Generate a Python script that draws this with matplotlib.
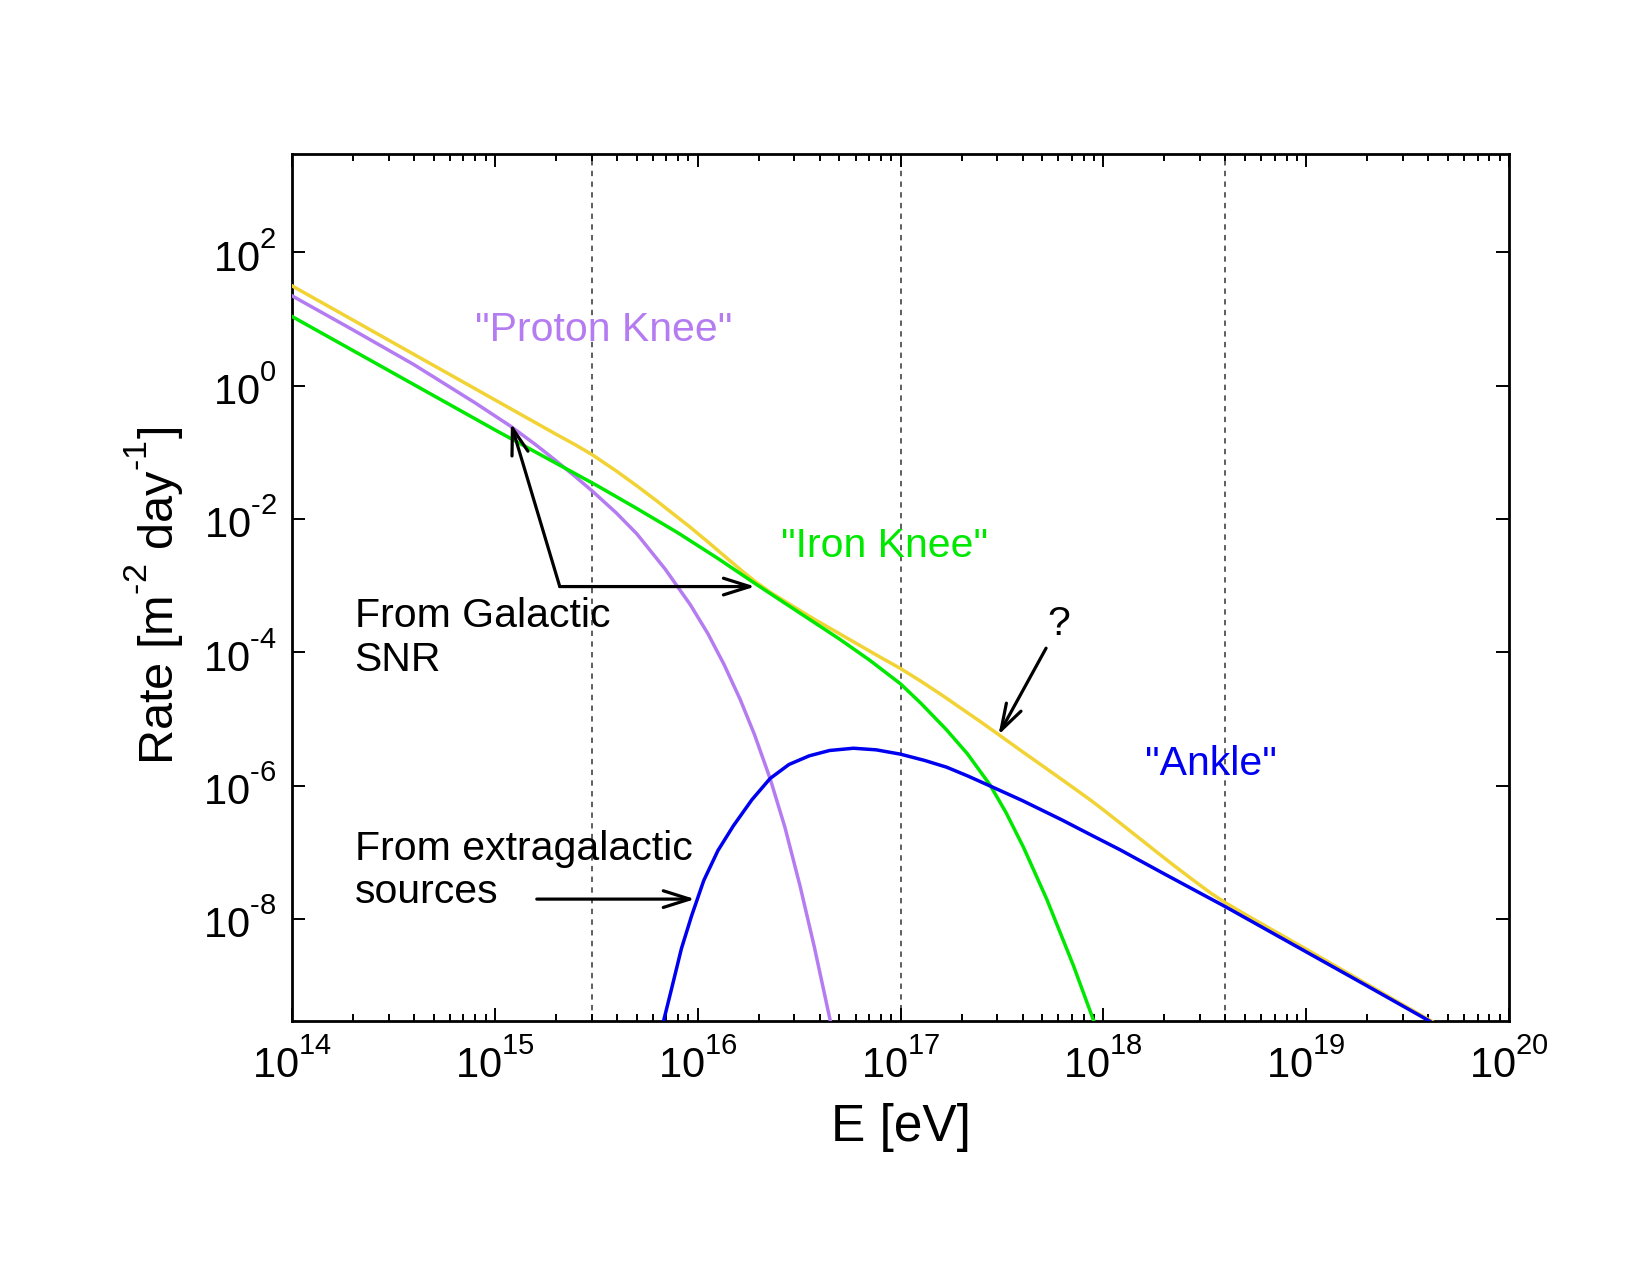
import numpy as np
import matplotlib
matplotlib.use("Agg")
import matplotlib.pyplot as plt
from matplotlib.ticker import LogLocator, NullLocator, NullFormatter

try:
    import matplotlib._mathtext as _mt
    _mt.FontConstantsBase.sup1 = 1.0
except Exception:
    pass

# ---------------- data (log10 values) ----------------
proton_logE = [14.0, 14.3, 14.6, 14.9, 15.075, 15.2, 15.3, 15.4, 15.481, 15.6, 15.7,
               15.84, 15.963, 16.05, 16.13, 16.209, 16.28, 16.357, 16.43, 16.505,
               16.575, 16.645, 16.66]
proton_logR = [1.35, 0.84, 0.32, -0.25, -0.60, -0.88, -1.12, -1.37, -1.58, -1.91, -2.22,
               -2.75, -3.28, -3.715, -4.18, -4.70, -5.23, -5.89, -6.62, -7.505,
               -8.415, -9.40, -9.61]

iron_logE = [14.0, 14.5, 15.0, 15.5, 15.7, 15.9, 16.1, 16.3, 16.5, 16.7, 16.85, 17.0,
             17.1, 17.227, 17.33, 17.44, 17.52, 17.606, 17.721, 17.853, 17.946, 17.96]
iron_logR = [1.04, 0.19, -0.66, -1.49, -1.84, -2.20, -2.59, -3.00, -3.40, -3.80, -4.12,
             -4.47, -4.76, -5.16, -5.52, -5.98, -6.40, -6.92, -7.70, -8.70, -9.47, -9.59]

extra_logE = [15.83, 15.87, 15.92, 15.97, 16.03, 16.1, 16.176, 16.267, 16.357, 16.45,
              16.55, 16.65, 16.768, 16.88, 17.0, 17.12, 17.227, 17.33, 17.44, 17.6,
              17.795, 17.935, 18.083, 18.3, 18.6, 19.0, 19.3, 19.58, 19.62]
extra_logR = [-9.55, -9.06, -8.44, -7.95, -7.42, -6.97, -6.60, -6.21, -5.89, -5.68,
              -5.55, -5.47, -5.436, -5.46, -5.525, -5.62, -5.72, -5.85, -6.0, -6.22,
              -6.51, -6.73, -6.96, -7.32, -7.81, -8.49, -9.0, -9.48, -9.55]

total_logE = [14.0, 14.5, 15.0, 15.2, 15.3, 15.4, 15.481, 15.6, 15.7, 15.8, 15.9, 15.963,
              16.05, 16.15, 16.22, 16.29, 16.36, 16.45, 16.58, 16.7, 16.8, 16.9, 17.0,
              17.1, 17.2, 17.3, 17.4, 17.483, 17.6, 17.7, 17.8, 17.935, 18.0, 18.1,
              18.2, 18.264, 18.35, 18.45, 18.53, 18.6, 18.7, 18.85, 19.0, 19.2, 19.4,
              19.595, 19.63]
total_logR = [1.50, 0.645, -0.21, -0.552, -0.723, -0.89, -1.035, -1.28, -1.50, -1.73,
              -1.97, -2.12, -2.34, -2.60, -2.78, -2.95, -3.10, -3.27, -3.51, -3.72,
              -3.895, -4.07, -4.24, -4.43, -4.63, -4.84, -5.05, -5.23, -5.485, -5.70,
              -5.915, -6.21, -6.36, -6.60, -6.84, -6.995, -7.20, -7.43, -7.61, -7.75,
              -7.93, -8.19, -8.45, -8.80, -9.15, -9.49, -9.55]

knee_lines = [3e15, 1e17, 4e18]
x_exponents = [14, 15, 16, 17, 18, 19, 20]
y_exponents = [-8, -6, -4, -2, 0, 2]

# annotation arrows (E, rate)
galactic_corner = (2.09e15, 9.75e-4)
galactic_tip_p = (1.2e15, 0.275)
galactic_tip_fe = (1.92e16, 9.75e-4)
extra_arrow = ((1.61e15, 2.0e-8), (9.7e15, 2.0e-8))
q_arrow = ((5.22e17, 1.16e-4), (3.04e17, 5.8e-6))

# ---------------- style ----------------
plt.rcParams['font.family'] = ['Liberation Sans', 'DejaVu Sans']
plt.rcParams['mathtext.fontset'] = 'custom'
plt.rcParams['mathtext.rm'] = 'Liberation Sans'
plt.rcParams['mathtext.it'] = 'Liberation Sans:italic'
plt.rcParams['mathtext.bf'] = 'Liberation Sans:bold'

c_proton = '#b57cf2'
c_iron = '#00e800'
c_extra = '#0000f0'
c_total = '#f2d335'

fig = plt.figure(figsize=(16.5, 12.75), dpi=100)
ax = fig.add_axes([0.17697, 0.19945, 0.73758, 0.67976])

def p(v):
    return [10.0 ** x for x in v]

def explabel(e):
    s = str(abs(e))
    if e < 0:
        s = r'\text{-}' + s
    return r'$\mathdefault{10^{%s}}$' % s

for xv in knee_lines:
    ax.axvline(xv, color='#333333', lw=1.1, ls=(0, (3.5, 3.5)), zorder=1)

lw = 2.5
ax.plot(p(total_logE), p(total_logR), color=c_total, lw=lw, zorder=3)
ax.plot(p(proton_logE), p(proton_logR), color=c_proton, lw=lw, zorder=3)
ax.plot(p(iron_logE), p(iron_logR), color=c_iron, lw=lw, zorder=3)
ax.plot(p(extra_logE), p(extra_logR), color=c_extra, lw=lw, zorder=3)

ax.set_xscale('log')
ax.set_yscale('log')
ax.set_xlim(1e14, 1e20)
ax.set_ylim(3e-10, 3e3)

ax.set_xticks([10.0 ** e for e in x_exponents])
ax.set_xticklabels([explabel(e) for e in x_exponents])
ax.xaxis.set_minor_locator(LogLocator(base=10, subs=np.arange(2, 10), numticks=100))
ax.xaxis.set_minor_formatter(NullFormatter())
ax.set_yticks([10.0 ** e for e in y_exponents])
ax.set_yticklabels([explabel(e) for e in y_exponents])
ax.yaxis.set_minor_locator(NullLocator())

ax.tick_params(which='both', direction='in', top=True, right=True, width=1.4)
ax.tick_params(which='major', length=9.5, labelsize=30)
ax.tick_params(which='minor', length=5)
ax.tick_params(axis='x', which='major', pad=14)
ax.tick_params(axis='y', which='major', pad=11)
for s in ax.spines.values():
    s.set_linewidth(2.0)

ax.set_xlabel('E [eV]', fontsize=37)
ax.set_ylabel(r'Rate [m$^{\text{-}2}$ day$^{\text{-}1}$]', fontsize=35)
ax.xaxis.set_label_coords(0.5, -0.095)
ax.yaxis.set_label_coords(-0.087, 0.49)

# labels
fs = 29.5
ax.text(10 ** 14.902, 10 ** 0.675, '"Proton Knee"', color=c_proton, fontsize=fs, va='baseline')
ax.text(10 ** 16.41, 10 ** -2.561, '"Iron Knee"', color=c_iron, fontsize=fs, va='baseline')
ax.text(10 ** 18.206, 10 ** -5.836, '"Ankle"', color=c_extra, fontsize=fs, va='baseline')
ax.text(10 ** 17.782, 10 ** -3.736, '?', color='k', fontsize=fs, va='baseline', ha='center')
ax.text(10 ** 14.309, 10 ** -3.611, 'From Galactic', color='k', fontsize=fs, va='baseline')
ax.text(10 ** 14.309, 10 ** -4.272, 'SNR', color='k', fontsize=fs, va='baseline')
ax.text(10 ** 14.309, 10 ** -7.112, 'From extragalactic', color='k', fontsize=fs, va='baseline')
ax.text(10 ** 14.309, 10 ** -7.762, 'sources', color='k', fontsize=fs, va='baseline')

aprops = dict(arrowstyle='->,head_length=1.9,head_width=0.6', lw=2.3, color='k',
              shrinkA=0, shrinkB=0)
ax.annotate('', xy=galactic_tip_p, xytext=galactic_corner, arrowprops=aprops, zorder=5)
ax.annotate('', xy=galactic_tip_fe, xytext=galactic_corner, arrowprops=aprops, zorder=5)
ax.annotate('', xy=extra_arrow[1], xytext=extra_arrow[0], arrowprops=aprops, zorder=5)
ax.annotate('', xy=q_arrow[1], xytext=q_arrow[0], arrowprops=aprops, zorder=5)

fig.savefig('out.png', dpi=100)
